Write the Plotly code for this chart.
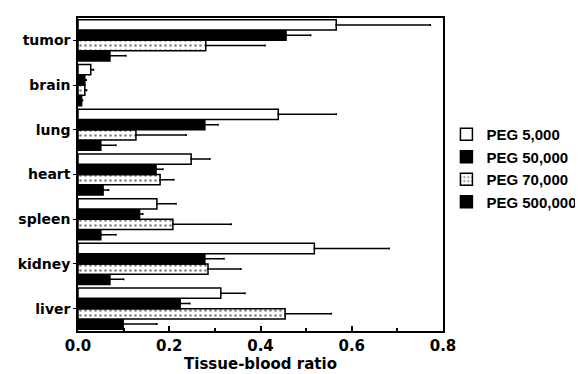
import plotly.graph_objects as go

categories = ["liver", "kidney", "spleen", "heart", "lung", "brain", "tumor"]
series_names = ["PEG 5,000", "PEG 50,000", "PEG 70,000", "PEG 500,000"]
peg5000 = [0.313, 0.518, 0.173, 0.248, 0.439, 0.028, 0.566]
peg5000_err = [0.053, 0.164, 0.042, 0.041, 0.127, 0.006, 0.206]
peg50000 = [0.224, 0.278, 0.135, 0.171, 0.278, 0.015, 0.456]
peg50000_err = [0.021, 0.042, 0.007, 0.015, 0.029, 0.003, 0.054]
peg70000 = [0.454, 0.285, 0.208, 0.180, 0.127, 0.015, 0.280]
peg70000_err = [0.101, 0.072, 0.128, 0.030, 0.110, 0.004, 0.130]
peg500000 = [0.099, 0.070, 0.050, 0.055, 0.050, 0.008, 0.070]
peg500000_err = [0.074, 0.030, 0.033, 0.012, 0.033, 0.002, 0.035]
x_ticks = [0.0, 0.2, 0.4, 0.6, 0.8]

values = [peg5000, peg50000, peg70000, peg500000]
errors = [peg5000_err, peg50000_err, peg70000_err, peg500000_err]
fills = ["white", "black", "white", "black"]
patterns = ["", "", ".", ""]

FONT = "DejaVu Sans, Liberation Sans, sans-serif"
LEGEND_FONT = "Liberation Sans, Arial, sans-serif"

fig = go.Figure()
# add in reverse so PEG 5,000 sits on top of each group
for i in reversed(range(4)):
    fig.add_trace(go.Bar(
        y=categories, x=values[i], orientation="h", name=series_names[i],
        marker=dict(color=fills[i], line=dict(color="black", width=1.5),
                    pattern=dict(shape=patterns[i], fgcolor="black", bgcolor="white",
                                 size=5, solidity=0.2)),
        error_x=dict(type="data", symmetric=False, array=errors[i],
                     arrayminus=[0] * len(errors[i]), color="black",
                     thickness=1.5, width=1),
    ))

fig.update_layout(
    width=583, height=374,
    margin=dict(l=70, r=148, t=10, b=51, autoexpand=False),
    paper_bgcolor="white", plot_bgcolor="white",
    barmode="group", bargap=0.08, bargroupgap=0.0,
    font=dict(family=FONT, color="black", size=15, weight="bold"),
    showlegend=True,
    legend=dict(x=0.752, y=0.706, xref="container", yref="container",
                xanchor="left", yanchor="top", traceorder="reversed",
                font=dict(size=15, family=LEGEND_FONT, weight="bold"),
                bgcolor="rgba(0,0,0,0)", itemwidth=30),
)
fig.update_xaxes(
    range=[0, 0.8], tickvals=x_ticks, ticktext=[f"{v:.1f}" for v in x_ticks],
    ticks="inside", ticklen=5, tickwidth=1.5, tickcolor="black",
    minor=dict(dtick=0.1, ticks="inside", ticklen=3, tickcolor="black"),
    showline=True, linecolor="black", linewidth=1.5, mirror=True,
    showgrid=False, zeroline=False, automargin=False,
    tickfont=dict(size=15, family=FONT, weight="bold"),
    title=dict(text="Tissue-blood ratio", font=dict(size=15, family=FONT, weight="bold"),
               standoff=4),
)
fig.update_yaxes(
    categoryorder="array", categoryarray=categories,
    ticks="outside", ticklen=3, tickcolor="black", automargin=False,
    showline=True, linecolor="black", linewidth=1.5, mirror=True,
    showgrid=False, tickfont=dict(size=14, family=FONT, weight="bold"),
)

fig.write_html("out.html")
